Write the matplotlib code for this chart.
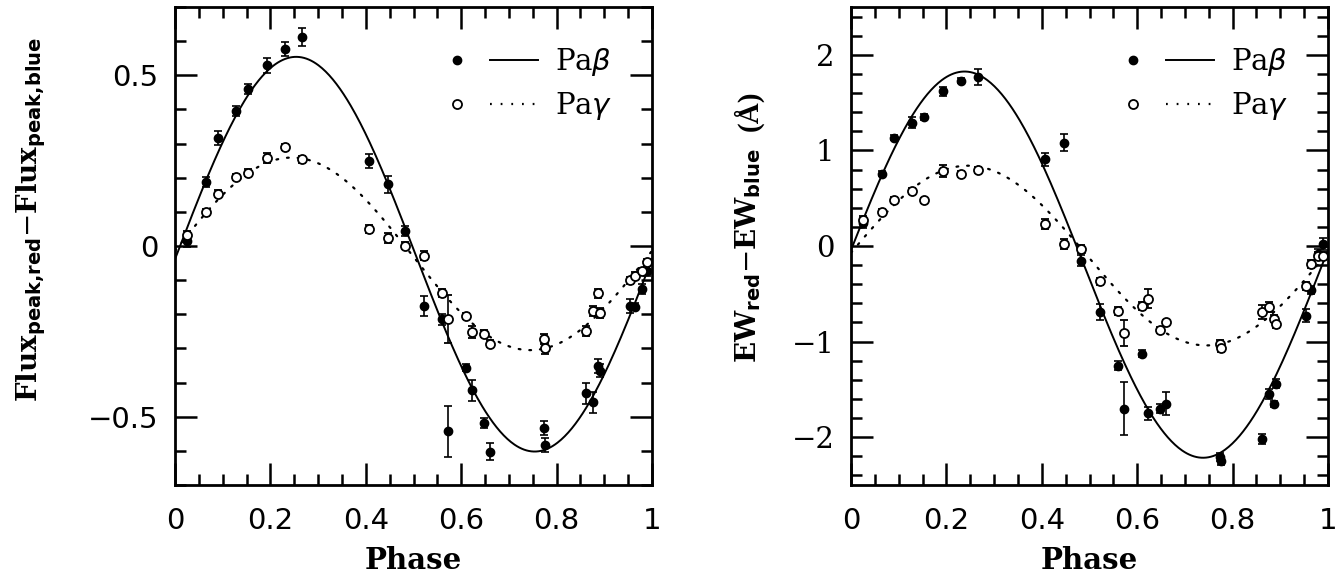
import numpy as np
import matplotlib.pyplot as plt
from matplotlib.ticker import MultipleLocator, FuncFormatter
from matplotlib.lines import Line2D
from matplotlib.legend_handler import HandlerTuple

plt.rcParams['mathtext.fontset'] = 'dejavusans'

# orbital phase of each spectrum (same for both lines)
phase = [0.026, 0.064, 0.091, 0.128, 0.154, 0.192, 0.231, 0.267, 0.407, 0.447,
         0.483, 0.521, 0.560, 0.572, 0.610, 0.622, 0.648, 0.660, 0.774, 0.776,
         0.862, 0.876, 0.886, 0.890, 0.953, 0.964, 0.978, 0.990]

# left: peak flux difference
flux_pab = [0.016, 0.187, 0.317, 0.396, 0.460, 0.530, 0.577, 0.612, 0.248, 0.181,
            0.045, -0.176, -0.215, -0.543, -0.357, -0.423, -0.519, -0.602, -0.533, -0.582,
            -0.432, -0.458, -0.352, -0.365, -0.175, -0.178, -0.125, -0.073]
flux_pab_err = [0.02, 0.015, 0.02, 0.015, 0.015, 0.022, 0.02, 0.027, 0.02, 0.025,
                0.015, 0.03, 0.015, 0.075, 0.01, 0.03, 0.015, 0.025, 0.02, 0.02,
                0.03, 0.03, 0.02, 0.02, 0.02, 0.01, 0.015, 0.015]
flux_pag = [0.032, 0.099, 0.153, 0.202, 0.215, 0.258, 0.290, 0.254, 0.050, 0.024,
            0.001, -0.028, -0.138, -0.213, -0.205, -0.252, -0.257, -0.286, -0.272, -0.300,
            -0.249, -0.190, -0.139, -0.197, -0.100, -0.087, -0.073, -0.048]
flux_pag_err = [0.012, 0.01, 0.01, 0.01, 0.01, 0.015, 0.01, 0.01, 0.012, 0.015,
                0.01, 0.012, 0.012, 0.07, 0.01, 0.018, 0.01, 0.01, 0.015, 0.015,
                0.015, 0.015, 0.012, 0.015, 0.01, 0.01, 0.01, 0.01]

# right: equivalent width difference
ew_pab = [0.242, 0.758, 1.134, 1.29, 1.347, 1.618, 1.73, 1.768, 0.905, 1.08,
          -0.154, -0.69, -1.25, -1.70, -1.126, -1.75, -1.70, -1.65, -2.207, -2.25,
          -2.02, -1.55, -1.65, -1.44, -0.73, -0.46, -0.08, 0.02]
ew_pab_err = [0.05, 0.03, 0.03, 0.06, 0.03, 0.05, 0.03, 0.08, 0.07, 0.09,
              0.06, 0.08, 0.05, 0.28, 0.04, 0.07, 0.05, 0.12, 0.04, 0.04,
              0.05, 0.05, 0.03, 0.05, 0.07, 0.04, 0.05, 0.06]
ew_pag = [0.27, 0.36, 0.484, 0.572, 0.477, 0.786, 0.751, 0.793, 0.232, 0.021,
          -0.032, -0.37, -0.68, -0.91, -0.63, -0.55, -0.88, -0.80, -1.02, -1.07,
          -0.69, -0.64, -0.76, -0.82, -0.42, -0.19, -0.10, -0.10]
ew_pag_err = [0.04, 0.03, 0.03, 0.03, 0.03, 0.06, 0.03, 0.03, 0.05, 0.05,
              0.04, 0.04, 0.04, 0.14, 0.04, 0.1, 0.03, 0.03, 0.04, 0.04,
              0.07, 0.05, 0.04, 0.04, 0.04, 0.04, 0.04, 0.04]

# sine fits: amplitude, phase shift, offset
fit_flux_pab = (0.578, 0.004, -0.024)
fit_flux_pag = (0.282, -0.005, -0.023)
fit_ew_pab = (2.02, -0.012, -0.195)
fit_ew_pag = (0.94, -0.005, -0.10)


def sine(p, amp, shift, off):
    return amp * np.sin(2 * np.pi * (p - shift)) + off


def fmt(v, pos):
    s = '%g' % round(v, 3)
    return s.replace('-', '\u2212')


fig = plt.figure(figsize=(13.43, 5.77), dpi=100)
ax1 = fig.add_axes([175 / 1343, 1 - 485 / 577, 477 / 1343, 478 / 577])
ax2 = fig.add_axes([851 / 1343, 1 - 485 / 577, 477 / 1343, 478 / 577])

pp = np.linspace(0, 1, 400)

panels = [
    (ax1, flux_pab, flux_pab_err, flux_pag, flux_pag_err, fit_flux_pab, fit_flux_pag,
     (-0.7, 0.7), 0.5, 0.1,
     r'Flux$_{\mathbf{peak{,}red}}$$-$Flux$_{\mathbf{peak{,}blue}}$', 'DejaVu Sans',
     (-0.266, 0.555)),
    (ax2, ew_pab, ew_pab_err, ew_pag, ew_pag_err, fit_ew_pab, fit_ew_pag,
     (-2.5, 2.5), 1, 0.2,
     r'EW$_{\mathbf{red}}$$-$EW$_{\mathbf{blue}}$', 'DejaVu Serif',
     (-0.184, 0.48)),
]

for ax, b, be, g, ge, fb, fg, ylim, major, minor, ylab, yfont, lpos in panels:
    ax.errorbar(phase, b, yerr=be, fmt='o', ms=6, color='black', mfc='black',
                elinewidth=1.2, capsize=3, capthick=1.2)
    ax.errorbar(phase, g, yerr=ge, fmt='o', ms=6.5, color='black', mfc='white',
                mew=1.3, elinewidth=1.2, capsize=3, capthick=1.2)
    ax.plot(pp, sine(pp, *fb), color='black', lw=1.4)
    ax.plot(pp, sine(pp, *fg), color='black', lw=1.6, ls=(0, (0.8, 4)),
            dash_capstyle='round')

    ax.set_xlim(0, 1)
    ax.set_ylim(*ylim)
    ax.xaxis.set_major_locator(MultipleLocator(0.2))
    ax.xaxis.set_minor_locator(MultipleLocator(0.05))
    ax.yaxis.set_major_locator(MultipleLocator(major))
    ax.yaxis.set_minor_locator(MultipleLocator(minor))
    ax.xaxis.set_major_formatter(FuncFormatter(fmt))
    ax.yaxis.set_major_formatter(FuncFormatter(fmt))
    ax.tick_params(which='both', direction='in', top=True, right=True, width=1.8)
    ax.tick_params(which='major', length=16)
    ax.tick_params(which='minor', length=8)
    ax.tick_params(axis='x', pad=16, labelsize=21)
    ax.tick_params(axis='y', pad=12, labelsize=21)
    for lab in ax.get_xticklabels():
        lab.set_family('DejaVu Sans')
    for lab in ax.get_yticklabels():
        lab.set_family(yfont)
    for s in ax.spines.values():
        s.set_linewidth(2)

    ax.set_xlabel('Phase', fontsize=21, family='DejaVu Serif', weight='bold',
                  labelpad=8)
    ax.set_ylabel(ylab, fontsize=20, family='DejaVu Serif', weight='bold')
    ax.yaxis.set_label_coords(*lpos)

    h_b = (Line2D([], [], ls='none', marker='o', ms=6, color='black'),
           Line2D([], [], color='black', lw=1.4))
    h_g = (Line2D([], [], ls='none', marker='o', ms=6.5, mfc='white', mew=1.3,
                  color='black'),
           Line2D([], [], color='black', lw=1.6, ls=(0, (0.8, 4))))
    ax.legend([h_b, h_g], [r'Pa$\beta$', r'Pa$\gamma$'],
              handler_map={tuple: HandlerTuple(ndivide=None, pad=0.3)},
              loc='upper right', frameon=False,
              prop={'family': 'DejaVu Serif', 'size': 21},
              handlelength=3.6, handletextpad=0.6, labelspacing=0.4,
              borderaxespad=0.95)

# unit of the right label, set just above it
fig.canvas.draw()
bb = ax2.yaxis.label.get_window_extent()
x_c = (bb.x0 + bb.x1) / 2 / fig.bbox.width
y_t = bb.y1 / fig.bbox.height
fig.text(x_c, y_t + 0.03, '(Å)', rotation=90, ha='center', va='bottom',
         fontsize=21, family='Liberation Serif', weight='bold')

fig.savefig('out.png', dpi=100)
